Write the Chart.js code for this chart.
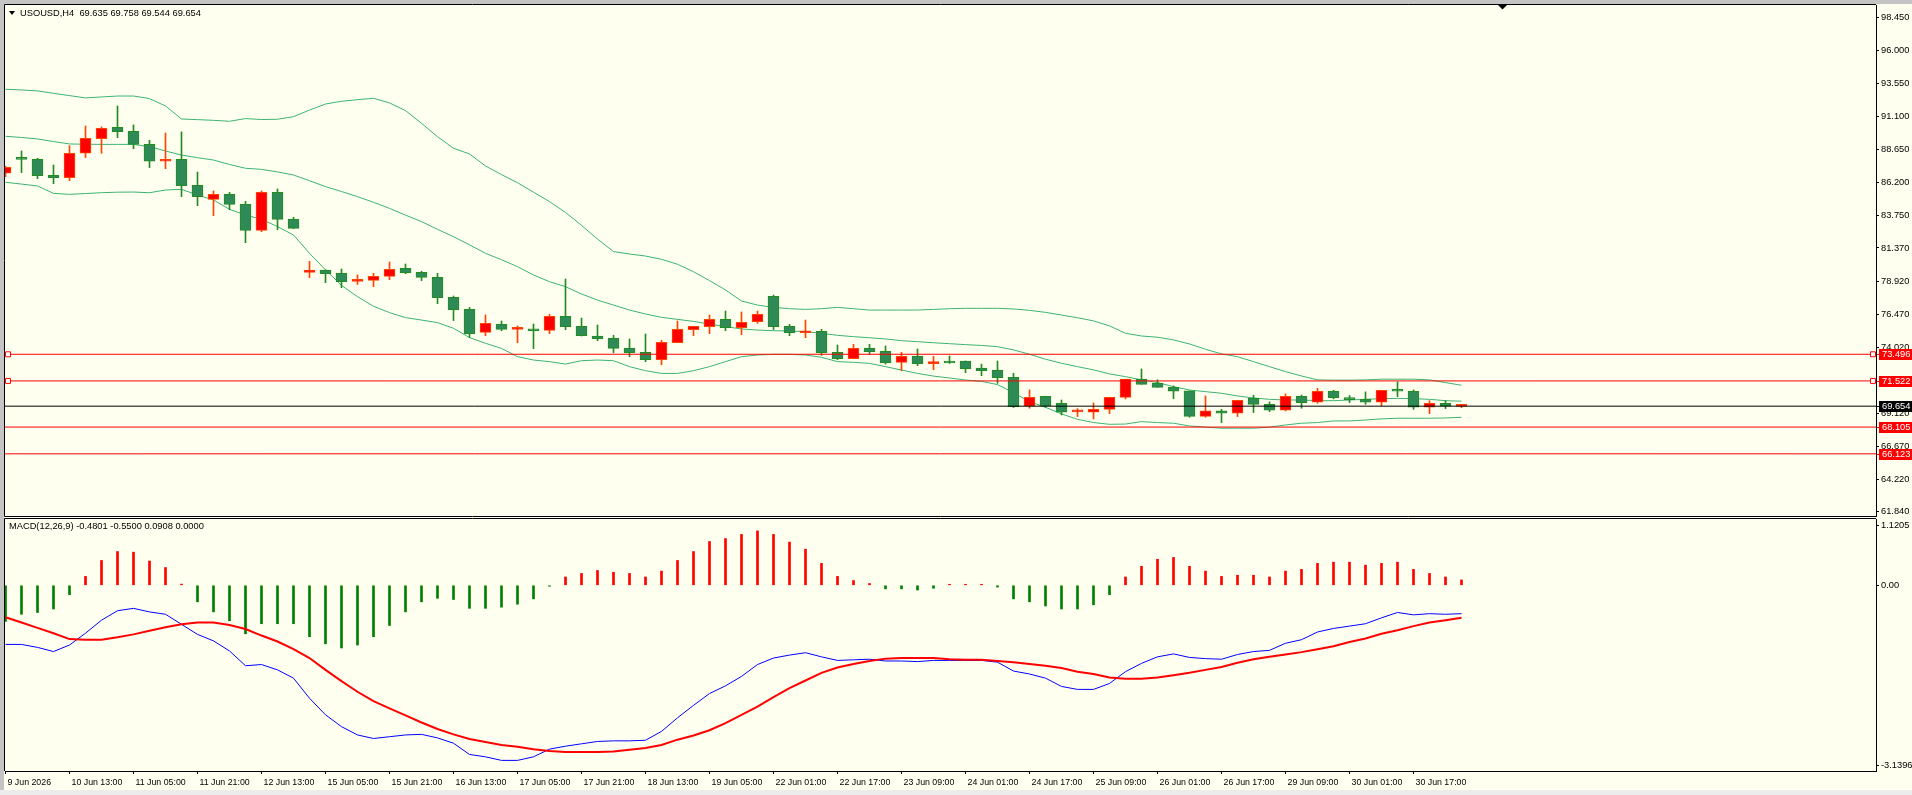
<!DOCTYPE html>
<html>
<head>
<meta charset="utf-8">
<script src="https://cdn.jsdelivr.net/npm/chart.js@4.4.1/dist/chart.umd.min.js"></script>
<style>
html, body { margin: 0; padding: 0; }
body { width: 1912px; height: 795px; background: #fffff0; position: relative; overflow: hidden; font-family: "Liberation Sans", Arial, sans-serif; }
#gTop { position: absolute; left: 0; top: 0; width: 1912px; height: 4px; background: #c4c4c4; }
#gLeft { position: absolute; left: 0; top: 0; width: 4px; height: 795px; background: #c4c4c4; }
#gBottom { position: absolute; left: 0; top: 790px; width: 1912px; height: 5px; background: #ececec; }
canvas { position: absolute; left: 0; }
#mainChart { top: 0; }
#macdChart { top: 517px; }
.hdr { position: absolute; font-size: 9.3px; line-height: 11px; color: #000; white-space: pre; }
#hdr { left: 20px; top: 7.5px; }
#macdHdr { left: 9px; top: 520.5px; }
#tri { position: absolute; left: 9px; top: 11px; width: 0; height: 0; border-left: 3px solid transparent; border-right: 3px solid transparent; border-top: 4px solid #000; }
</style>
</head>
<body>
<div id="gTop"></div>
<div id="gLeft"></div>
<div id="gBottom"></div>
<canvas id="mainChart" width="1912" height="517"></canvas>
<canvas id="macdChart" width="1912" height="273"></canvas>
<div id="tri"></div>
<div class="hdr" id="hdr">USOUSD,H4  69.635 69.758 69.544 69.654</div>
<div class="hdr" id="macdHdr">MACD(12,26,9) -0.4801 -0.5500 0.0908 0.0000</div>
<script>
// H4 bars, 9 Jun 2026 21:00 .. 1 Jul 05:00
const opens = [86.90, 88.08, 87.93, 86.75, 86.57, 88.38, 89.46, 90.30, 90.01, 89.04,
    87.79, 87.93, 86.01, 84.97, 85.34, 84.60, 82.67, 85.49, 83.49, 79.56,
    79.73, 79.51, 78.90, 78.97, 79.27, 79.86, 79.56, 79.19, 77.71, 76.83,
    75.12, 75.71, 75.34, 75.37, 75.27, 76.30, 75.56, 74.85, 74.67, 73.96,
    73.64, 73.09, 74.35, 75.32, 75.54, 76.08, 75.47, 75.91, 77.79, 75.56,
    75.09, 75.19, 73.64, 73.17, 73.96, 73.71, 72.90, 73.37, 72.80, 72.92,
    73.00, 72.48, 72.33, 71.79, 69.65, 70.39, 69.87, 69.23, 69.20, 69.42,
    70.31, 71.65, 71.37, 71.05, 70.78, 68.90, 69.30, 69.13, 70.24, 69.79,
    69.35, 70.39, 69.94, 70.76, 70.24, 70.16, 69.94, 70.86, 70.76, 69.57,
    69.87, 69.635];
const highs = [87.44, 88.55, 88.01, 87.51, 88.95, 90.40, 90.33, 91.88, 90.48, 89.34,
    89.88, 89.96, 86.99, 85.59, 85.49, 84.82, 85.59, 85.74, 83.64, 80.38,
    79.76, 79.81, 79.37, 79.49, 80.33, 80.18, 79.64, 79.49, 77.81, 76.97,
    76.41, 75.96, 75.59, 75.74, 76.45, 79.07, 76.18, 75.66, 74.90, 74.63,
    75.00, 74.53, 75.96, 75.56, 76.40, 76.70, 76.63, 76.70, 77.88, 75.71,
    76.03, 75.34, 74.18, 74.23, 74.23, 74.11, 73.64, 73.88, 73.34, 73.37,
    73.00, 72.77, 73.00, 72.09, 70.86, 70.39, 70.11, 69.47, 69.89, 70.31,
    71.65, 72.41, 71.60, 71.15, 70.78, 70.41, 69.42, 70.09, 70.46, 69.97,
    70.56, 70.48, 70.98, 70.83, 70.44, 70.71, 70.83, 71.45, 70.86, 70.06,
    70.06, 69.758];
const lows = [86.65, 86.95, 86.50, 86.13, 86.35, 88.06, 88.38, 89.54, 88.72, 87.32,
    87.24, 85.17, 84.50, 83.76, 84.20, 81.76, 82.57, 82.72, 82.80, 79.17,
    78.80, 78.43, 78.67, 78.50, 79.02, 79.46, 78.95, 77.24, 75.99, 74.73,
    74.87, 75.24, 74.35, 73.91, 75.02, 75.32, 74.85, 74.50, 73.61, 73.32,
    72.95, 72.72, 74.35, 74.87, 75.02, 75.24, 74.95, 75.79, 75.32, 74.87,
    74.72, 73.42, 73.09, 73.17, 73.49, 72.77, 72.28, 72.65, 72.35, 72.82,
    72.13, 71.91, 71.34, 69.55, 69.50, 69.57, 69.00, 68.88, 68.71, 69.10,
    70.19, 71.27, 71.05, 70.21, 68.83, 68.83, 68.44, 68.88, 69.18, 69.25,
    69.30, 69.50, 69.87, 70.19, 69.92, 69.79, 69.67, 70.36, 69.42, 69.10,
    69.47, 69.544];
const closes = [87.34, 87.93, 86.72, 86.57, 88.38, 89.49, 90.23, 89.98, 89.04, 87.79,
    87.93, 85.98, 85.17, 85.34, 84.60, 82.67, 85.49, 83.49, 82.82, 79.73,
    79.46, 78.87, 79.00, 79.27, 79.78, 79.54, 79.19, 77.69, 76.80, 75.02,
    75.79, 75.34, 75.44, 75.24, 76.30, 75.54, 74.87, 74.65, 73.93, 73.61,
    73.09, 74.38, 75.34, 75.56, 76.08, 75.47, 75.86, 76.45, 75.54, 75.09,
    75.17, 73.61, 73.17, 73.93, 73.69, 72.87, 73.34, 72.80, 72.90, 72.85,
    72.43, 72.28, 71.76, 69.62, 70.31, 69.67, 69.20, 69.32, 69.42, 70.31,
    71.65, 71.27, 71.05, 70.76, 68.90, 69.30, 69.13, 70.09, 69.79, 69.35,
    70.39, 69.92, 70.76, 70.29, 70.14, 69.94, 70.83, 70.76, 69.57, 69.87,
    69.65, 69.654];

// Bollinger bands
const bbUpper = [93.12, 93.07, 93.00, 92.82, 92.65, 92.48, 92.55, 92.62, 92.62, 92.43,
    91.88, 90.92, 90.87, 90.82, 90.75, 90.95, 90.88, 90.90, 91.09, 91.58,
    92.03, 92.23, 92.35, 92.45, 92.11, 91.54, 90.60, 89.61, 88.75, 88.33,
    87.44, 86.80, 86.20, 85.50, 84.80, 84.00, 83.04, 82.03, 81.10, 80.92,
    80.77, 80.53, 80.16, 79.61, 78.95, 78.26, 77.44, 77.14, 76.97, 76.87,
    76.82, 76.87, 76.97, 76.87, 76.77, 76.77, 76.77, 76.77, 76.82, 76.87,
    76.90, 76.90, 76.90, 76.85, 76.75, 76.60, 76.40, 76.20, 75.97, 75.60,
    75.05, 74.85, 74.76, 74.56, 74.26, 73.87, 73.52, 73.32, 72.95, 72.58,
    72.21, 71.89, 71.60, 71.58, 71.58, 71.60, 71.65, 71.65, 71.65, 71.60,
    71.40, 71.20];
const bbMiddle = [89.64, 89.55, 89.44, 89.25, 89.07, 89.05, 89.04, 89.04, 89.04, 88.87,
    88.55, 88.25, 88.05, 87.88, 87.55, 87.27, 87.19, 87.00, 86.77, 86.35,
    85.91, 85.55, 85.17, 84.75, 84.30, 83.80, 83.32, 82.75, 82.20, 81.60,
    80.97, 80.50, 79.98, 79.37, 78.87, 78.50, 77.96, 77.51, 77.14, 76.77,
    76.48, 76.23, 76.08, 75.93, 75.74, 75.54, 75.37, 75.29, 75.24, 75.22,
    75.17, 75.05, 74.90, 74.80, 74.72, 74.63, 74.50, 74.43, 74.35, 74.28,
    74.21, 74.15, 74.06, 73.82, 73.50, 73.13, 72.83, 72.58, 72.34, 72.04,
    71.84, 71.60, 71.40, 71.10, 70.85, 70.73, 70.61, 70.41, 70.26, 70.16,
    70.11, 70.11, 70.06, 70.06, 70.11, 70.16, 70.21, 70.23, 70.21, 70.16,
    70.06, 70.02];
const bbLower = [86.23, 86.10, 85.96, 85.41, 85.34, 85.40, 85.46, 85.50, 85.51, 85.46,
    85.66, 85.71, 85.29, 84.92, 84.23, 83.81, 83.49, 82.95, 82.33, 80.97,
    79.75, 78.60, 77.76, 77.05, 76.58, 76.21, 76.03, 75.84, 75.42, 74.73,
    74.31, 73.93, 73.32, 73.07, 72.95, 72.77, 73.02, 73.07, 73.02, 72.58,
    72.28, 72.08, 72.08, 72.28, 72.58, 72.95, 73.32, 73.44, 73.49, 73.49,
    73.44, 73.27, 72.95, 72.90, 72.82, 72.58, 72.33, 72.08, 71.88, 71.74,
    71.59, 71.49, 71.25, 70.66, 69.99, 69.57, 69.08, 68.68, 68.44, 68.31,
    68.33, 68.51, 68.44, 68.39, 68.19, 68.10, 68.02, 68.02, 68.02, 68.10,
    68.26, 68.39, 68.44, 68.56, 68.56, 68.63, 68.71, 68.76, 68.76, 68.76,
    68.78, 68.83];

// MACD(12,26,9)
const macdHist = [-0.61, -0.49, -0.46, -0.40, -0.16, 0.15, 0.42, 0.57, 0.56, 0.41,
    0.30, 0.02, -0.28, -0.45, -0.60, -0.82, -0.65, -0.65, -0.65, -0.87,
    -0.99, -1.06, -1.01, -0.87, -0.68, -0.45, -0.28, -0.22, -0.24, -0.39,
    -0.39, -0.37, -0.32, -0.23, -0.01, 0.14, 0.20, 0.25, 0.22, 0.20,
    0.14, 0.24, 0.42, 0.57, 0.74, 0.79, 0.86, 0.92, 0.86, 0.73,
    0.61, 0.37, 0.15, 0.08, 0.03, -0.06, -0.06, -0.08, -0.05, 0.01,
    0.01, 0.01, -0.03, -0.23, -0.28, -0.35, -0.40, -0.40, -0.33, -0.16,
    0.14, 0.32, 0.44, 0.47, 0.32, 0.24, 0.15, 0.17, 0.17, 0.14,
    0.24, 0.27, 0.37, 0.39, 0.39, 0.34, 0.37, 0.39, 0.27, 0.20,
    0.14, 0.09];
const macdMain = [-1.00, -1.00, -1.05, -1.12, -1.01, -0.81, -0.59, -0.43, -0.39, -0.45,
    -0.49, -0.66, -0.83, -0.94, -1.11, -1.36, -1.34, -1.43, -1.57, -1.91,
    -2.19, -2.39, -2.53, -2.59, -2.56, -2.53, -2.52, -2.58, -2.67, -2.86,
    -2.90, -2.96, -2.96, -2.90, -2.77, -2.72, -2.68, -2.64, -2.63, -2.63,
    -2.62, -2.47, -2.24, -2.03, -1.83, -1.70, -1.54, -1.34, -1.23, -1.18,
    -1.14, -1.21, -1.27, -1.26, -1.25, -1.28, -1.28, -1.29, -1.27, -1.27,
    -1.27, -1.27, -1.30, -1.45, -1.50, -1.57, -1.71, -1.76, -1.76, -1.66,
    -1.46, -1.32, -1.21, -1.16, -1.22, -1.24, -1.25, -1.17, -1.12, -1.10,
    -0.98, -0.92, -0.79, -0.73, -0.69, -0.65, -0.55, -0.46, -0.50, -0.48,
    -0.49, -0.48];
const macdSignal = [-0.54, -0.63, -0.72, -0.81, -0.91, -0.92, -0.92, -0.88, -0.83, -0.77,
    -0.71, -0.66, -0.63, -0.63, -0.67, -0.74, -0.85, -0.95, -1.08, -1.23,
    -1.43, -1.62, -1.80, -1.96, -2.08, -2.20, -2.32, -2.43, -2.52, -2.60,
    -2.65, -2.70, -2.73, -2.77, -2.80, -2.82, -2.82, -2.82, -2.81, -2.78,
    -2.75, -2.70, -2.61, -2.54, -2.45, -2.33, -2.19, -2.05, -1.89, -1.74,
    -1.61, -1.48, -1.39, -1.33, -1.28, -1.24, -1.23, -1.23, -1.23, -1.25,
    -1.26, -1.26, -1.28, -1.30, -1.33, -1.36, -1.40, -1.46, -1.50, -1.56,
    -1.58, -1.58, -1.56, -1.52, -1.48, -1.43, -1.38, -1.31, -1.25, -1.21,
    -1.17, -1.13, -1.08, -1.03, -0.96, -0.90, -0.82, -0.76, -0.69, -0.63,
    -0.59, -0.55];

const priceTicks = [98.45, 96.0, 93.55, 91.1, 88.65, 86.2, 83.75, 81.37, 78.92, 76.47, 74.02, 69.12, 66.67, 64.22, 61.84];
const macdTicks = [1.1205, 0, -3.1396];
const macdTickLabels = ['1.1205', '0.00', '-3.1396'];
const timeLabels = ['9 Jun 2026', '10 Jun 13:00', '11 Jun 05:00', '11 Jun 21:00', '12 Jun 13:00',
    '15 Jun 05:00', '15 Jun 21:00', '16 Jun 13:00', '17 Jun 05:00', '17 Jun 21:00', '18 Jun 13:00',
    '19 Jun 05:00', '22 Jun 01:00', '22 Jun 17:00', '23 Jun 09:00', '24 Jun 01:00', '24 Jun 17:00',
    '25 Jun 09:00', '26 Jun 01:00', '26 Jun 17:00', '29 Jun 09:00', '30 Jun 01:00', '30 Jun 17:00'];
const barsPerLabel = 4;

const levels = [73.496, 71.522, 68.105, 66.123];
const markedLevels = [73.496, 71.522];
const bidPrice = 69.654;

// layout (px)
const barPx = 16, plotLeft = 5, plotRight = 1876, axisWidth = 36;
const xMin = -0.5 / barPx;
const xMax = xMin + (plotRight - plotLeft) / barPx;
const priceMin = 61.52, priceMax = 99.36;
const macdMin = -3.1396, macdMax = 1.1205, macdPx = 252;

const UP_FILL = '#ff0000', UP_LINE = '#ff4500';
const DN_FILL = '#2e8b57', DN_LINE = '#228b22';
const BAND = '#3cb371';
const FONT = '"Liberation Sans", Arial, sans-serif';

const idx = opens.map((_, i) => i);
const isUp = idx.map(i => closes[i] >= opens[i]);

function frame(withBottom) {
    return {
        id: 'frame',
        afterDraw(chart) {
            const { ctx, chartArea: a } = chart;
            ctx.save();
            ctx.strokeStyle = '#000';
            ctx.lineWidth = 1;
            ctx.beginPath();
            ctx.moveTo(a.left - 0.5, a.bottom + (withBottom ? 0.5 : 0));
            ctx.lineTo(a.left - 0.5, a.top - 0.5);
            ctx.lineTo(a.right, a.top - 0.5);
            if (withBottom) {
                ctx.moveTo(a.left - 0.5, a.bottom + 0.5);
                ctx.lineTo(a.right, a.bottom + 0.5);
            }
            ctx.stroke();
            ctx.restore();
        }
    };
}

const axisBoxes = {
    id: 'axisBoxes',
    afterDraw(chart) {
        const { ctx, scales: { y }, chartArea: a } = chart;
        ctx.save();
        ctx.font = '9.3px ' + FONT;
        ctx.textBaseline = 'middle';
        const box = (v, bg) => {
            const py = Math.round(y.getPixelForValue(v));
            ctx.fillStyle = bg;
            ctx.fillRect(a.right + 1, py, 3, 1);
            ctx.fillRect(a.right + 3, py - 5, 40, 11);
            ctx.fillStyle = '#fff';
            ctx.fillText(v.toFixed(3), a.right + 6, py + 0.5);
        };
        levels.forEach(v => box(v, '#ff0000'));
        box(bidPrice, '#000');
        // chart shift marker
        ctx.fillStyle = '#000';
        ctx.beginPath();
        ctx.moveTo(1498, 5);
        ctx.lineTo(1507, 5);
        ctx.lineTo(1502.5, 9.5);
        ctx.closePath();
        ctx.fill();
        ctx.restore();
    }
};

function levelSet(v, color, marked) {
    const d = 3 / barPx;
    return {
        type: 'line',
        data: [{ x: xMin, y: v }, { x: xMin + d, y: v }, { x: xMax - d, y: v }, { x: xMax, y: v }],
        borderColor: color,
        borderWidth: 1,
        pointStyle: 'rect',
        pointRadius: marked ? [0, 3.5, 3.5, 0] : 0,
        pointBackgroundColor: '#fff',
        pointBorderColor: color,
        pointBorderWidth: 1,
        order: 0
    };
}

function bandSet(values) {
    return {
        type: 'line',
        data: values.map((v, i) => ({ x: i, y: v })),
        borderColor: BAND,
        borderWidth: 1,
        pointRadius: 0,
        tension: 0,
        order: 3
    };
}

function rightAxis(min, max, font) {
    return {
        position: 'right',
        min: min,
        max: max,
        afterFit: s => { s.width = axisWidth; s.paddingTop = 0; s.paddingBottom = 0; },
        ticks: { autoSkip: false, padding: 2, color: '#000', font: font },
        grid: { drawOnChartArea: false, drawTicks: true, tickLength: 3, tickColor: '#000', tickWidth: 1 },
        border: { display: true, color: '#000', width: 1 }
    };
}

Chart.defaults.font.family = FONT;

const priceAxis = rightAxis(priceMin, priceMax, { family: FONT, size: 9.3 });
priceAxis.afterBuildTicks = s => { s.ticks = priceTicks.map(v => ({ value: v })); };
priceAxis.ticks.callback = v => v.toFixed(3);

new Chart(document.getElementById('mainChart'), {
    type: 'bar',
    data: {
        datasets: [
            ...levels.map(v => levelSet(v, '#ff0000', markedLevels.includes(v))),
            levelSet(bidPrice, '#000', false),
            {
                type: 'bar',
                data: idx.map(i => ({ x: i, y: [opens[i], closes[i]] })),
                backgroundColor: idx.map(i => isUp[i] ? UP_FILL : DN_FILL),
                borderColor: idx.map(i => isUp[i] ? UP_LINE : DN_LINE),
                borderWidth: 1,
                borderSkipped: false,
                barThickness: 11,
                minBarLength: 2,
                grouped: false,
                order: 1
            },
            {
                type: 'bar',
                data: idx.map(i => ({ x: i, y: [lows[i], highs[i]] })),
                backgroundColor: idx.map(i => isUp[i] ? UP_LINE : DN_LINE),
                borderWidth: 0,
                barThickness: 1,
                grouped: false,
                order: 2
            },
            bandSet(bbUpper),
            bandSet(bbMiddle),
            bandSet(bbLower)
        ]
    },
    options: {
        responsive: false,
        animation: false,
        events: [],
        layout: { padding: { left: plotLeft, top: 5, right: 0, bottom: 1 } },
        plugins: { legend: { display: false }, tooltip: { enabled: false } },
        scales: {
            x: { type: 'linear', min: xMin, max: xMax, display: false, offset: false, bounds: 'data' },
            y: priceAxis
        }
    },
    plugins: [frame(true), axisBoxes]
});

const macdAxis = rightAxis(macdMin, macdMax, { family: FONT, size: 9.3 });
// top and bottom labels sit just inside the panel edges
macdAxis.afterBuildTicks = s => {
    const inset = 6 / (macdPx / (macdMax - macdMin));
    s.ticks = macdTicks.map(v => ({ value: v === macdMax ? v - inset : v === macdMin ? v + inset : v }));
};
macdAxis.ticks.callback = (v, i) => macdTickLabels[i];

new Chart(document.getElementById('macdChart'), {
    type: 'bar',
    data: {
        datasets: [
            {
                type: 'line',
                data: idx.map(i => ({ x: i, y: macdSignal[i] })),
                borderColor: '#ff0000',
                borderWidth: 2,
                pointRadius: 0,
                order: 0
            },
            {
                type: 'line',
                data: idx.map(i => ({ x: i, y: macdMain[i] })),
                borderColor: '#0000ff',
                borderWidth: 1,
                pointRadius: 0,
                order: 1
            },
            {
                type: 'bar',
                data: idx.map(i => ({ x: i, y: macdHist[i] })),
                backgroundColor: macdHist.map(v => v >= 0 ? '#ff0000' : '#008000'),
                borderWidth: 0,
                barThickness: 2,
                minBarLength: 1,
                grouped: false,
                order: 2
            }
        ]
    },
    options: {
        responsive: false,
        animation: false,
        events: [],
        layout: { padding: { left: plotLeft, top: 2, right: 0, bottom: 0 } },
        plugins: { legend: { display: false }, tooltip: { enabled: false } },
        scales: {
            x: {
                type: 'linear',
                min: xMin,
                max: xMax,
                offset: false,
                bounds: 'data',
                afterBuildTicks: s => { s.ticks = timeLabels.map((_, i) => ({ value: i * barsPerLabel })); },
                afterFit: s => { s.height = 19; s.paddingLeft = 0; s.paddingRight = 0; },
                ticks: {
                    autoSkip: false,
                    maxRotation: 0,
                    minRotation: 0,
                    align: 'start',
                    labelOffset: 2,
                    padding: 3,
                    color: '#000',
                    font: { family: FONT, size: 8.8 },
                    callback: (v, i) => timeLabels[i]
                },
                grid: { drawOnChartArea: false, drawTicks: true, tickLength: 3, tickColor: '#000', offset: false },
                border: { display: true, color: '#000', width: 1 }
            },
            y: macdAxis
        }
    },
    plugins: [frame(false)]
});
</script>
</body>
</html>
